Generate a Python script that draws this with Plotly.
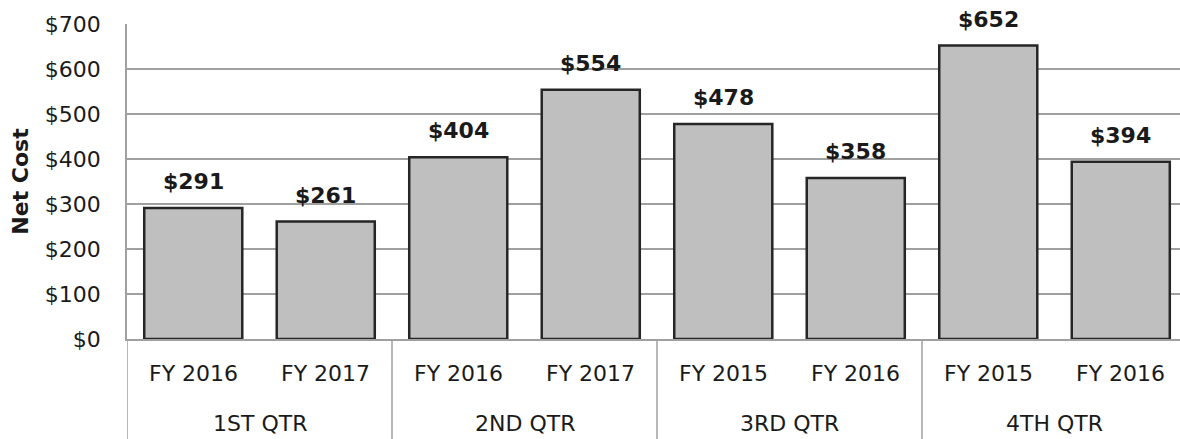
import plotly.graph_objects as go

quarters = ["1ST QTR", "1ST QTR", "2ND QTR", "2ND QTR", "3RD QTR", "3RD QTR", "4TH QTR", "4TH QTR"]
years = ["FY 2016", "FY 2017", "FY 2016", "FY 2017", "FY 2015", "FY 2016", "FY 2015", "FY 2016"]
net_cost = [291, 261, 404, 554, 478, 358, 652, 394]
quarter_names = ["1ST QTR", "2ND QTR", "3RD QTR", "4TH QTR"]
y_ticks = [0, 100, 200, 300, 400, 500, 600, 700]
y_tick_labels = ["$" + str(v) for v in y_ticks]

grid = "#a0a0a0"
txt = "#1a1a1a"
FONT = "DejaVu Sans"

W, H = 1180, 439
ML, MR, MT, MB = 127, 0, 24, 100
plot_h = H - MT - MB

# unique category keys (quarter + fiscal year), kept in data order
cat_keys = [q + " | " + y for q, y in zip(quarters, years)]

fig = go.Figure()
fig.add_trace(go.Bar(
    x=cat_keys,
    y=net_cost,
    marker=dict(color="#bfbfbf", line=dict(color="#262626", width=2.5)),
    hoverinfo="x+y",
))

# value labels
for i, v in enumerate(net_cost):
    fig.add_annotation(
        x=cat_keys[i], y=v, xref="x", yref="y",
        text="$" + str(v), showarrow=False,
        yanchor="bottom", yshift=12,
        font=dict(family=FONT, size=22, color=txt, weight="bold"),
    )

# inner category labels
for i, yr in enumerate(years):
    fig.add_annotation(
        x=cat_keys[i], y=-34 / plot_h, xref="x", yref="paper",
        text=yr, showarrow=False, yanchor="middle",
        font=dict(family=FONT, size=22, color=txt),
    )

# outer category labels
for g, q in enumerate(quarter_names):
    fig.add_annotation(
        x=2 * g + 0.5, y=-84 / plot_h, xref="x", yref="paper",
        text=q, showarrow=False, yanchor="middle",
        font=dict(family=FONT, size=22, color=txt),
    )

# group dividers
for g in range(len(quarter_names) + 1):
    fig.add_shape(
        type="line", xref="x", yref="paper",
        x0=2 * g - 0.5, x1=2 * g - 0.5, y0=0, y1=-(MB + 5) / plot_h,
        line=dict(color=grid, width=1.5),
    )

fig.update_layout(
    width=W, height=H,
    margin=dict(l=ML, r=MR, t=MT, b=MB, autoexpand=False),
    paper_bgcolor="white", plot_bgcolor="white",
    bargap=0.26,
    showlegend=False,
    font=dict(family=FONT, size=22, color=txt),
)
fig.update_yaxes(
    range=[0, 700],
    tickvals=y_ticks, ticktext=y_tick_labels,
    showgrid=True, gridcolor=grid, gridwidth=1.5,
    showline=True, linecolor=grid, linewidth=1.5,
    zeroline=False,
    ticks="", ticklabelstandoff=20,
    automargin=False,
    tickfont=dict(family=FONT, size=22, color=txt),
    title=dict(text="Net Cost", standoff=10,
               font=dict(family=FONT, size=22, color=txt, weight="bold")),
)
fig.update_xaxes(
    type="category",
    range=[-0.5, 7.447],
    showline=True, linecolor=grid, linewidth=1.5,
    showticklabels=False,
    automargin=False,
    ticks="",
)

fig.write_html("out.html", config={"displayModeBar": False},
               post_script="document.body.style.margin='0';")
